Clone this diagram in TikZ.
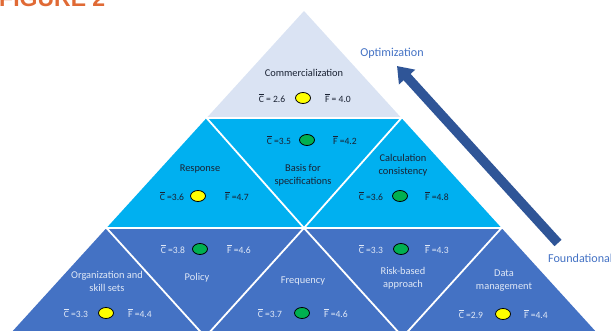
\documentclass[tikz,border=0pt]{standalone}
\usepackage{fontspec}
\setmainfont{Carlito}
\newfontfamily\headfont{Liberation Sans}
\usetikzlibrary{arrows.meta,shapes.geometric}

\definecolor{topfill}{HTML}{DAE3F3}
\definecolor{midfill}{HTML}{00B0F0}
\definecolor{lowfill}{HTML}{4472C4}
\definecolor{arrowblue}{HTML}{2F5597}
\definecolor{labelblue}{HTML}{4472C4}
\definecolor{darktext}{HTML}{1A2233}
\definecolor{lighttext}{HTML}{E0E8F6}
\definecolor{figorange}{HTML}{E06A35}
\definecolor{dotyellow}{HTML}{FFFF00}
\definecolor{dotgreen}{HTML}{00B050}

\newcommand{\cbar}{\ensuremath{\overline{\mathrm{C}}}}
\newcommand{\fbar}{\ensuremath{\overline{\mathrm{F}}}}

\begin{document}
\begin{tikzpicture}[x=1pt,y=-1pt,
  lbl/.style={font=\fontsize{10.4}{13}\selectfont, align=center, inner sep=0pt},
  dark/.style={lbl, text=darktext},
  light/.style={lbl, text=lighttext},
  val/.style={font=\fontsize{9.6}{11}\selectfont, inner sep=0pt},
  dval/.style={val, text=darktext},
  lval/.style={val, text=lighttext},
  dot/.style={ellipse, draw=black, line width=0.8pt, minimum width=15pt,
              minimum height=11pt, inner sep=0pt},
  ydot/.style={dot, fill=dotyellow},
  gdot/.style={dot, fill=dotgreen},
  gap/.style={draw=white, line width=2.2pt, line cap=rect},
  cut/.style={draw=white, line width=1.8pt},
  side/.style={font=\fontsize{12.1}{14}\selectfont, text=labelblue, inner sep=0pt},
]
\useasboundingbox (0,0) rectangle (611,331);

% pyramid corners
\coordinate (apex) at (304,11);
\coordinate (tl) at (206.6,118);
\coordinate (tr) at (401.4,118);
\coordinate (ml) at (106.5,228);
\coordinate (mm) at (304,228);
\coordinate (mr) at (501.5,228);
\coordinate (bl) at (7.3,337);
\coordinate (bq1) at (205.25,337);
\coordinate (bq3) at (402.75,337);
\coordinate (br) at (600.7,337);

% three layers
\fill[topfill] (apex) -- (tl) -- (tr) -- cycle;
\fill[midfill] (tl) -- (ml) -- (mr) -- (tr) -- cycle;
\fill[lowfill] (ml) -- (bl) -- (br) -- (mr) -- cycle;

% white separators
\draw[gap] (tl) -- (tr);
\draw[gap] (ml) -- (mr);
\draw[cut] (tl) -- (mm) -- (tr);
\draw[cut] (ml) -- (bq1) -- (mm) -- (bq3) -- (mr);

% top layer
\node[dark] (commercialization) at (304,73) {Commercialization};
\node[dval] (c1) at (272,98) {\cbar{} = 2.6};
\node[ydot] (d1) at (303,98) {};
\node[dval] (f1) at (338,98) {\fbar{} = 4.0};

% middle layer
\node[dark] (response) at (200,169) {Response};
\node[dval] (c2) at (172,196) {\cbar{} =3.6};
\node[ydot] (d2) at (198,196) {};
\node[dval] (f2) at (237,196) {\fbar{} =4.7};

\node[dark] (basis) at (303,175.5) {Basis for\\specifications};
\node[dval] (c3) at (279,140) {\cbar{} =3.5};
\node[gdot] (d3) at (307,140) {};
\node[dval] (f3) at (345,140) {\fbar{} =4.2};

\node[dark] (calc) at (403,165) {Calculation\\consistency};
\node[dval] (c4) at (371,196) {\cbar{} =3.6};
\node[gdot] (d4) at (400,196) {};
\node[dval] (f4) at (437,196) {\fbar{} =4.8};

% bottom layer
\node[light] (org) at (107,281) {Organization and\\skill sets};
\node[lval] (c5) at (76,313) {\cbar{} =3.3};
\node[ydot] (d5) at (106,313) {};
\node[lval] (f5) at (140,313) {\fbar{} =4.4};

\node[light] (policy) at (197,278) {Policy};
\node[lval] (c6) at (173,249) {\cbar{} =3.8};
\node[gdot] (d6) at (200,249) {};
\node[lval] (f6) at (239,249) {\fbar{} =4.6};

\node[light] (frequency) at (303,281) {Frequency};
\node[lval] (c7) at (270,313) {\cbar{} =3.7};
\node[gdot] (d7) at (302,313) {};
\node[lval] (f7) at (336,313) {\fbar{} =4.6};

\node[light] (risk) at (403,278) {Risk-based\\approach};
\node[lval] (c8) at (371,249) {\cbar{} =3.3};
\node[gdot] (d8) at (401,249) {};
\node[lval] (f8) at (437,249) {\fbar{} =4.3};

\node[light] (data) at (504,281) {Data\\management};
\node[lval] (c9) at (471,314) {\cbar{} =2.9};
\node[ydot] (d9) at (503,314) {};
\node[lval] (f9) at (536,314) {\fbar{} =4.4};

% direction arrow
\coordinate (atail) at (558,243);
\coordinate (ahead) at (397,66);
\draw[arrowblue, line width=9.5pt, -{Triangle[length=15pt,width=21pt]}] (atail) -- (ahead);
\node[side] (optim) at (392,53) {Optimization};
\node[side, anchor=west] (found) at (548,258) {Foundational};

% figure caption
\node[anchor=base west, inner sep=0pt, text=figorange,
      font=\headfont\bfseries\fontsize{23}{23}\selectfont] (figlabel) at (-1,7) {FIGURE 2};
\end{tikzpicture}
\end{document}
